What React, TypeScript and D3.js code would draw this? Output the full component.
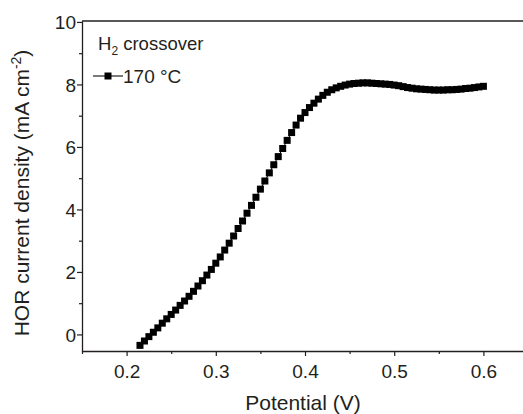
import React, { useEffect, useRef } from "react";
import { select, scaleLinear, axisBottom, axisLeft, line, range } from "d3";

// potential (V) and HOR current density (mA cm-2)
const potential = [
  0.215, 0.22, 0.225, 0.23, 0.235, 0.24, 0.245, 0.25, 0.255, 0.26, 0.265, 0.27, 0.275, 0.28,
  0.285, 0.29, 0.295, 0.3, 0.305, 0.31, 0.315, 0.32, 0.325, 0.33, 0.335, 0.34, 0.345, 0.35,
  0.355, 0.36, 0.365, 0.37, 0.375, 0.38, 0.385, 0.39, 0.395, 0.4, 0.405, 0.41, 0.415, 0.42,
  0.425, 0.43, 0.435, 0.44, 0.445, 0.45, 0.455, 0.46, 0.465, 0.47, 0.475, 0.48, 0.485, 0.49,
  0.495, 0.5, 0.505, 0.51, 0.515, 0.52, 0.525, 0.53, 0.535, 0.54, 0.545, 0.55, 0.555, 0.56,
  0.565, 0.57, 0.575, 0.58, 0.585, 0.59, 0.595, 0.6,
];
const current = [
  -0.35, -0.21, -0.07, 0.07, 0.21, 0.36, 0.5, 0.64, 0.78, 0.93, 1.07, 1.22, 1.38, 1.55,
  1.72, 1.9, 2.08, 2.28, 2.48, 2.7, 2.92, 3.15, 3.39, 3.63, 3.88, 4.13, 4.39, 4.65,
  4.91, 5.17, 5.43, 5.69, 5.95, 6.21, 6.46, 6.7, 6.92, 7.1, 7.26, 7.4, 7.53, 7.65,
  7.75, 7.83, 7.89, 7.94, 7.98, 8.01, 8.03, 8.04, 8.05, 8.05, 8.04, 8.03, 8.02, 8.01,
  8.0, 7.98, 7.96, 7.93, 7.9, 7.88, 7.86, 7.85, 7.84, 7.83, 7.82, 7.82, 7.82, 7.83,
  7.83, 7.84, 7.85, 7.87, 7.88, 7.9, 7.92, 7.94,
];
const xTicks = [0.2, 0.3, 0.4, 0.5, 0.6];
const yTicks = [0, 2, 4, 6, 8, 10];
const seriesLabel = "170 °C";

const App = () => {
  const svgRef = useRef(null);

  useEffect(() => {
    const W = 523;
    const H = 414;
    const svg = select(svgRef.current);
    svg.selectAll("*").remove();
    svg.attr("width", W).attr("height", H);

    const font = "'Liberation Sans', Arial, sans-serif";
    const ink = "#231f20";

    const left = 82;
    const top = 21;
    const bottom = 351;

    // x: 0.15 at the left axis, 0.1 V ~ 89 px; right side is cut off by the image
    const x = scaleLinear().domain([0.15, 0.65]).range([left, left + 446]);
    const y = scaleLinear().domain([-0.53, 10.03]).range([bottom, top]);

    const g = svg.append("g");

    // frame top line
    g.append("line")
      .attr("x1", left).attr("x2", W + 5)
      .attr("y1", top).attr("y2", top)
      .attr("stroke", ink).attr("stroke-width", 1.3);

    // minor ticks
    g.append("g")
      .attr("transform", `translate(0,${bottom})`)
      .call(axisBottom(x).tickValues(range(0.15, 0.66, 0.1)).tickSize(3).tickFormat(() => ""))
      .call((a) => a.select(".domain").remove())
      .selectAll("line").attr("stroke", ink).attr("stroke-width", 1.2);
    g.append("g")
      .attr("transform", `translate(${left},0)`)
      .call(axisLeft(y).tickValues([1, 3, 5, 7, 9]).tickSize(3).tickFormat(() => ""))
      .call((a) => a.select(".domain").remove())
      .selectAll("line").attr("stroke", ink).attr("stroke-width", 1.2);

    // major x axis
    const xa = g.append("g")
      .attr("transform", `translate(0,${bottom})`)
      .call(axisBottom(x).tickValues(xTicks).tickSize(5).tickSizeOuter(0).tickFormat((d) => d.toFixed(1)));
    xa.select(".domain").attr("stroke", ink).attr("stroke-width", 1.3);
    xa.selectAll("line").attr("stroke", ink).attr("stroke-width", 1.2);
    xa.selectAll("text")
      .attr("font-family", font).attr("font-size", 19).attr("fill", ink).attr("dy", "1.0em");

    // major y axis
    const ya = g.append("g")
      .attr("transform", `translate(${left},0)`)
      .call(axisLeft(y).tickValues(yTicks).tickSize(5).tickSizeOuter(0));
    ya.select(".domain").attr("stroke", ink).attr("stroke-width", 1.3);
    ya.selectAll("line").attr("stroke", ink).attr("stroke-width", 1.2);
    ya.selectAll("text")
      .attr("font-family", font).attr("font-size", 19).attr("fill", ink).attr("x", -6).attr("dy", "0.36em");

    // axis titles
    g.append("text")
      .attr("x", 303).attr("y", 410)
      .attr("text-anchor", "middle")
      .attr("font-family", font).attr("font-size", 21).attr("fill", ink)
      .text("Potential (V)");

    const yt = g.append("text")
      .attr("transform", `translate(29,${(top + bottom) / 2 + 7}) rotate(-90)`)
      .attr("text-anchor", "middle")
      .attr("font-family", font).attr("font-size", 21).attr("fill", ink);
    yt.append("tspan").text("HOR current density (mA cm");
    yt.append("tspan").attr("font-size", 14).attr("dy", -8).text("-2");
    yt.append("tspan").attr("dy", 8).text(")");

    // data
    const pts = potential.map((p, i) => [p, current[i]]);
    g.append("path")
      .datum(pts)
      .attr("fill", "none").attr("stroke", "#000").attr("stroke-width", 1)
      .attr("d", line().x((d) => x(d[0])).y((d) => y(d[1])));
    const s = 7;
    g.selectAll("rect.pt")
      .data(pts)
      .enter()
      .append("rect")
      .attr("class", "pt")
      .attr("x", (d) => x(d[0]) - s / 2)
      .attr("y", (d) => y(d[1]) - s / 2)
      .attr("width", s).attr("height", s)
      .attr("fill", "#000");

    // legend
    const lt = g.append("text")
      .attr("x", 98).attr("y", 50)
      .attr("font-family", font).attr("font-size", 18.5).attr("fill", ink);
    lt.append("tspan").text("H");
    lt.append("tspan").attr("font-size", 12).attr("dy", 5).text("2");
    lt.append("tspan").attr("dy", -5).text(" crossover");

    g.append("line")
      .attr("x1", 93).attr("x2", 123).attr("y1", 76).attr("y2", 76)
      .attr("stroke", ink).attr("stroke-width", 1.2);
    g.append("rect")
      .attr("x", 108 - s / 2).attr("y", 76 - s / 2).attr("width", s).attr("height", s)
      .attr("fill", "#000");
    g.append("text")
      .attr("x", 123).attr("y", 82.5)
      .attr("font-family", font).attr("font-size", 19).attr("fill", ink)
      .text(seriesLabel);
  }, []);

  return <svg ref={svgRef} style={{ position: "absolute", left: 0, top: 0 }}></svg>;
};

export default App;
